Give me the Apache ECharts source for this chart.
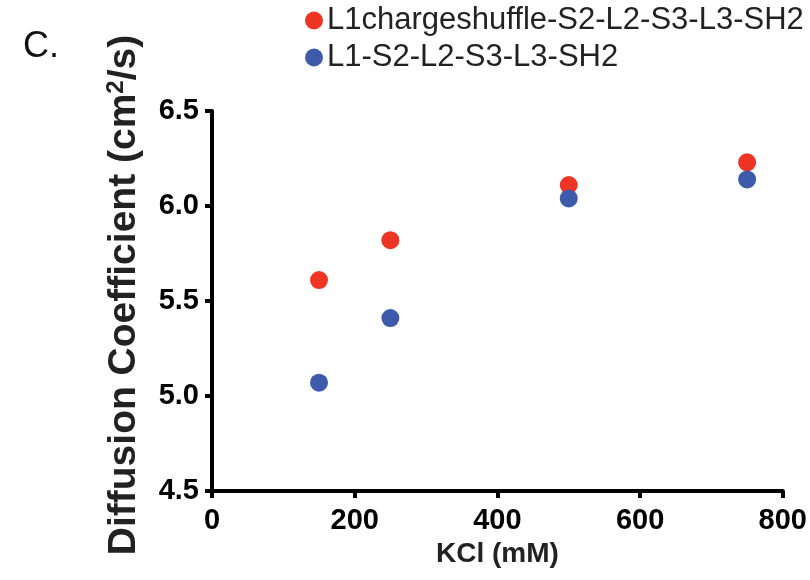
<!DOCTYPE html>
<html><head><meta charset="utf-8">
<script src="https://cdn.jsdelivr.net/npm/echarts@6/dist/echarts.min.js"></script>
<style>html,body{margin:0;padding:0;background:#fff}#c{width:810px;height:580px}</style>
</head><body><div id="c"></div>
<script>
const kcl = [150, 250, 500, 750];
const shuffled = [5.61, 5.82, 6.11, 6.23];
const native = [5.07, 5.41, 6.04, 6.14];
const seriesNames = ['L1chargeshuffle-S2-L2-S3-L3-SH2', 'L1-S2-L2-S3-L3-SH2'];
const xTicks = [0, 200, 400, 600, 800];
const yTicks = [4.5, 5.0, 5.5, 6.0, 6.5];

const chart = echarts.init(document.getElementById('c'));
const font = 'Liberation Sans, Arial, Helvetica, sans-serif';
chart.setOption({
  animation: false,
  title: {text: 'C.', left: 18, top: 24, textStyle: {fontFamily: font, fontSize: 36, fontWeight: 'normal', color: '#111'}},
  legend: {
    orient: 'vertical', left: 305, top: 5, itemGap: 6, padding: 0,
    icon: 'circle', itemWidth: 18, itemHeight: 18,
    textStyle: {fontFamily: font, fontSize: 31, lineHeight: 31, color: '#222', padding: [0,0,0,-1]},
    data: seriesNames
  },
  grid: {left: 212, right: 27, top: 111, bottom: 89, containLabel: false},
  xAxis: {
    type: 'value', min: xTicks[0], max: xTicks[xTicks.length-1], interval: 200,
    name: 'KCl (mM)', nameLocation: 'middle', nameGap: 49,
    nameTextStyle: {fontFamily: font, fontSize: 28, fontWeight: 'bold', color: '#222'},
    axisLine: {lineStyle: {color: '#000', width: 4}},
    axisTick: {length: 7, lineStyle: {color: '#000', width: 4}},
    axisLabel: {fontFamily: font, fontSize: 29, fontWeight: 'bold', color: '#000', margin: 15},
    splitLine: {show: false}
  },
  yAxis: {
    type: 'value', min: yTicks[0], max: yTicks[yTicks.length-1], interval: 0.5,
    name: '{a|Diffusion Coefficient (cm}{s|2}{a|/s)}', nameLocation: 'middle', nameGap: 68,
    nameTextStyle: {padding: [0,0,0,12], rich: {
      a: {fontFamily: font, fontSize: 39, fontWeight: 'bold', color: '#222'},
      s: {fontFamily: font, fontSize: 24, fontWeight: 'bold', color: '#222', verticalAlign: 'top', padding: [0,0,16,0]}
    }},
    axisLine: {lineStyle: {color: '#000', width: 4}},
    axisTick: {length: 7, lineStyle: {color: '#000', width: 4}},
    axisLabel: {fontFamily: font, fontSize: 29, fontWeight: 'bold', color: '#000', margin: 13,
      formatter: v => v.toFixed(1)},
    splitLine: {show: false}
  },
  series: [
    {name: seriesNames[0], type: 'scatter', symbolSize: 18, itemStyle: {color: '#ee3524', opacity: 1},
     data: kcl.map((x, i) => [x, shuffled[i]])},
    {name: seriesNames[1], type: 'scatter', symbolSize: 18, itemStyle: {color: '#3d5aab', opacity: 1},
     data: kcl.map((x, i) => [x, native[i]])}
  ]
});
</script></body></html>
